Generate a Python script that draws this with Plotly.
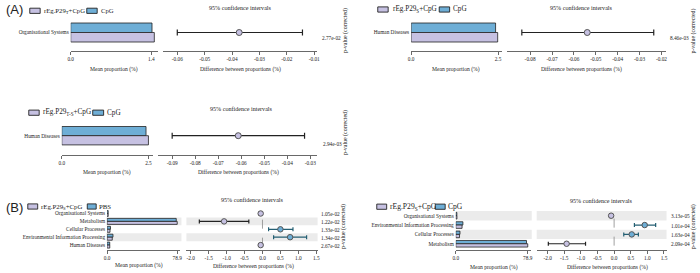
import plotly.graph_objects as go

W, H = 700, 273

# ------------------------- DATA -------------------------
# Panel A1
A1_categories = ["Organisational Systems"]
A1_group1 = [1.45]          # rEg.P29T+CpG
A1_group2 = [1.41]          # CpG
A1_diff = [-0.0374]
A1_ci_low = [-0.0600]
A1_ci_high = [-0.0143]
A1_pvalues = ["2.77e-02"]
A1_bar_ticks = [0.0, 1.4]
A1_ci_ticks = [-0.06, -0.05, -0.04, -0.03, -0.02, -0.01]
A1_legend = ["rEg.P29<sub>T</sub>+CpG", "CpG"]

# Panel A2
A2_categories = ["Human Diseases"]
A2_group1 = [2.49]          # rEg.P29S+CpG
A2_group2 = [2.43]          # CpG
A2_diff = [-0.0539]
A2_ci_low = [-0.0838]
A2_ci_high = [-0.0235]
A2_pvalues = ["8.46e-03"]
A2_bar_ticks = [0.0, 2.5]
A2_ci_ticks = [-0.08, -0.07, -0.06, -0.05, -0.04, -0.03, -0.02]
A2_legend = ["rEg.P29<sub>S</sub>+CpG", "CpG"]

# Panel A3
A3_categories = ["Human Diseases"]
A3_group1 = [2.50]          # rEg.P29T-S+CpG
A3_group2 = [2.43]          # CpG
A3_diff = [-0.0613]
A3_ci_low = [-0.0900]
A3_ci_high = [-0.0325]
A3_pvalues = ["2.94e-03"]
A3_bar_ticks = [0.0, 2.5]
A3_ci_ticks = [-0.09, -0.08, -0.07, -0.06, -0.05, -0.04, -0.03]
A3_legend = ["rEg.P29<sub>T-S</sub>+CpG", "CpG"]

# Panel B1
B1_categories = ["Organisational Systems", "Metabolism", "Cellular Processes",
                 "Environmental Information Processing", "Human Diseases"]
B1_group1 = [1.25, 78.9, 3.3, 5.8, 3.0]     # rEg.P29S+CpG
B1_group2 = [1.20, 77.8, 3.8, 6.6, 2.95]    # PBS
B1_diff = [-0.05, -1.07, 0.50, 0.77, -0.05]
B1_ci_low = [-0.09, -1.76, 0.17, 0.31, -0.09]
B1_ci_high = [-0.01, -0.38, 0.85, 1.23, -0.01]
B1_pvalues = ["1.05e-02", "1.22e-02", "1.33e-02", "1.34e-02", "2.67e-02"]
B1_bar_ticks = [0.0, 78.9]
B1_ci_ticks = [-2.0, -1.5, -1.0, -0.5, 0.0, 0.5, 1.0, 1.5]
B1_legend = ["rEg.P29<sub>S</sub>+CpG", "PBS"]

# Panel B2
B2_categories = ["Organisational Systems", "Environmental Information Processing",
                 "Cellular Processes", "Metabolism"]
B2_group1 = [1.25, 6.9, 4.1, 78.9]          # rEg.P29S+CpG
B2_group2 = [1.16, 7.8, 4.6, 77.5]          # CpG
B2_diff = [-0.09, 0.92, 0.53, -1.43]
B2_ci_low = [-0.13, 0.61, 0.29, -1.98]
B2_ci_high = [-0.05, 1.25, 0.73, -0.86]
B2_pvalues = ["3.13e-05", "1.01e-04", "1.63e-04", "2.09e-04"]
B2_bar_ticks = [0.0, 78.9]
B2_ci_ticks = [-2.0, -1.5, -1.0, -0.5, 0.0, 0.5, 1.0, 1.5]
B2_legend = ["rEg.P29<sub>S</sub>+CpG", "CpG"]

# ------------------------- STYLE -------------------------
PURPLE = "#c6c1e2"
BLUE = "#6eaed6"
EDGE = "#222222"
BAND = "#ebebeb"
SERIF = "Liberation Serif"
TXT = "#222222"


def px(x):
    return x / W


def py(y):
    return 1 - y / H


fig = go.Figure()
layout = {}
shapes = []
annotations = []


def text(x, y, s, size, xanchor="center", yanchor="middle", angle=0, family=SERIF):
    annotations.append(dict(x=px(x), y=py(y), xref="paper", yref="paper", text=s,
                            showarrow=False, xanchor=xanchor, yanchor=yanchor,
                            textangle=angle, font=dict(family=family, size=size, color=TXT)))


def panel(kb, kc, cats, g1, g2, diff, lo, hi, pvals, bar_ticks, ci_ticks, ci_fmt, legend, geo):
    n = len(cats)
    ys = [-i for i in range(n)]
    pitch, h = geo["pitch"], geo["h"]
    top = geo["row0"] - pitch / 2
    bot = geo["row0"] + (n - 1) * pitch + pitch / 2
    w = h / pitch
    bar_font = dict(family=SERIF, size=geo["fs"], color=TXT)

    # bars
    fig.add_trace(go.Bar(x=g2, y=ys, orientation="h", width=w, offset=0,
                         marker=dict(color=BLUE, line=dict(color=EDGE, width=0.8)),
                         xaxis=f"x{kb}", yaxis=f"y{kb}", hoverinfo="skip"))
    fig.add_trace(go.Bar(x=g1, y=ys, orientation="h", width=w, offset=-w,
                         marker=dict(color=PURPLE, line=dict(color=EDGE, width=0.8)),
                         xaxis=f"x{kb}", yaxis=f"y{kb}", hoverinfo="skip"))

    # CI points
    for i in range(n):
        pos = diff[i] > 0
        fig.add_trace(go.Scatter(
            x=[diff[i]], y=[ys[i]], mode="markers",
            marker=dict(size=geo["ms"], color=BLUE if pos else PURPLE,
                        line=dict(color="#555555", width=1)),
            error_x=dict(type="data", symmetric=False, array=[hi[i] - diff[i]],
                         arrayminus=[diff[i] - lo[i]], color="#245f73" if pos else "#222222",
                         thickness=1.2, width=geo["cap"]),
            xaxis=f"x{kc}", yaxis=f"y{kc}", hoverinfo="skip", cliponaxis=False))

    ydom = [py(bot), py(top)]
    yr = [-(n - 1) - 0.5, 0.5]
    layout[f"yaxis{kb}"] = dict(domain=ydom, range=yr, anchor=f"x{kb}", tickvals=ys, ticktext=cats,
                                showline=False, ticks="", showgrid=False, zeroline=False,
                                tickfont=bar_font, ticklabelstandoff=1)
    layout[f"yaxis{kc}"] = dict(domain=ydom, range=yr, anchor=f"x{kc}", showticklabels=False,
                                showline=False, ticks="", showgrid=False, zeroline=False)
    axis_common = dict(anchor="free", position=py(geo["axis_y"]), showline=True, linecolor="#444444",
                       linewidth=0.8, ticks="outside", ticklen=3, tickwidth=0.8, tickcolor="#444444",
                       showgrid=False, zeroline=False, tickfont=bar_font)
    layout[f"xaxis{kb}"] = dict(domain=[px(geo["bx"][0]), px(geo["bx"][1])], range=geo["brange"],
                                tickvals=bar_ticks, ticktext=[f"{v:.1f}" for v in bar_ticks], **axis_common)
    layout[f"xaxis{kc}"] = dict(domain=[px(geo["cx"][0]), px(geo["cx"][1])], range=geo["crange"],
                                tickvals=ci_ticks, ticktext=[format(v, ci_fmt) for v in ci_ticks], **axis_common)

    # alternating bands
    for i in range(n):
        if (n - 1 - i) % 2 == 1:
            for k, x0, x1 in ((kb, geo["band_b"][0], geo["band_b"][1]), (kc, geo["cx"][0], geo["cx"][1])):
                shapes.append(dict(type="rect", xref="paper", yref=f"y{k}",
                                   x0=px(x0), x1=px(x1), y0=ys[i] - 0.5, y1=ys[i] + 0.5,
                                   fillcolor=BAND, line=dict(width=0), layer="below"))
    # zero line
    if geo["crange"][0] < 0 < geo["crange"][1]:
        shapes.append(dict(type="line", xref=f"x{kc}", yref=f"y{kc}", x0=0, x1=0,
                           y0=yr[0] + 0.3, y1=yr[1] - 0.3,
                           line=dict(color="#888888", width=0.8, dash="dash"), layer="below"))

    # p-values
    for i in range(n):
        text(geo["px"], geo["row0"] + i * pitch + geo["poff"], pvals[i], geo["fs"], xanchor="left")
    text(geo["plab"][0], geo["plab"][1], "p-value (corrected)", geo["fs"] + 0.6, angle=-90)

    # titles
    text(geo["title"][0], geo["title"][1], "95% confidence intervals", geo["fs"] + 0.8)
    text(geo["mean_t"][0], geo["mean_t"][1], "Mean proportion (%)", geo["fs"] + 0.3)
    text(geo["diff_t"][0], geo["diff_t"][1], "Difference between proportions (%)", geo["fs"] + 0.3)

    # legend
    lg = geo["leg"]
    ly = lg["y"]
    for (x0, x1), col, lab, tx in ((lg["s1"], PURPLE, legend[0], lg["t1"]),
                                   (lg["s2"], BLUE, legend[1], lg["t2"])):
        shapes.append(dict(type="rect", xref="paper", yref="paper", x0=px(x0), x1=px(x1),
                           y0=py(ly + 2.6), y1=py(ly - 2.6), fillcolor=col,
                           line=dict(color=EDGE, width=0.9)))
        text(tx, ly, lab, lg["fs"], xanchor="left")


geoA1 = dict(row0=32.5, pitch=24, h=9.5, fs=5.3, ms=6, cap=3, axis_y=50.7,
             bx=(68.3, 156.7), brange=[0, 1.52], cx=(161.7, 316.7), crange=[-0.0651, -0.0090],
             band_b=(68, 157), px=319.3, poff=6, plab=(345, 31),
             title=(240, 7.5), mean_t=(112, 69.5), diff_t=(240, 69.5),
             leg=dict(y=10.8, s1=(27, 37.5), t1=39.5, s2=(84.5, 95), t2=96.5, fs=6.7))
geoA2 = dict(row0=32.5, pitch=24, h=9.5, fs=5.3, ms=6, cap=3, axis_y=50.7,
             bx=(411.7, 503.3), brange=[0, 2.614], cx=(508.3, 668.3), crange=[-0.0906, -0.0181],
             band_b=(411, 503), px=671, poff=6, plab=(695.5, 31),
             title=(583, 7.5), mean_t=(456.5, 69.5), diff_t=(583, 69.5),
             leg=dict(y=9.5, s1=(378, 388.5), t1=391, s2=(440, 450.5), t2=451.5, fs=7.2))
geoA3 = dict(row0=135.7, pitch=24, h=9.2, fs=5.3, ms=6, cap=3, axis_y=155,
             bx=(59.3, 151.7), brange=[0, 2.643], cx=(156.7, 316.7), crange=[-0.0960, -0.0271],
             band_b=(59, 152), px=321, poff=8, plab=(345, 133),
             title=(241, 109), mean_t=(105, 172.7), diff_t=(237.5, 172.7),
             leg=dict(y=112.7, s1=(26, 36.5), t1=38.5, s2=(90.5, 101.5), t2=103, fs=7.2))
geoB1 = dict(row0=213.5, pitch=7.9, h=3.0, fs=5.3, ms=5.5, cap=2, axis_y=250,
             bx=(105, 178.5), brange=[0, 82], cx=(185, 317.3), crange=[-2.12, 1.536],
             band_b=(104, 180), px=319, poff=0.5, plab=(343, 227),
             title=(251.7, 200), mean_t=(137.5, 265.7), diff_t=(252.5, 266.7),
             leg=dict(y=206.5, s1=(25, 35), t1=36.5, s2=(85, 94), t2=94.5, fs=6.8))
geoB2 = dict(row0=215.7, pitch=9.35, h=3.3, fs=5.3, ms=5.5, cap=2, axis_y=250,
             bx=(456.7, 532.7), brange=[0, 82.6], cx=(538.3, 669.3), crange=[-2.33, 1.578],
             band_b=(456.7, 533.3), px=671.7, poff=0.5, plab=(696.5, 226.7),
             title=(603.3, 201), mean_t=(495, 267.7), diff_t=(610, 267.7),
             leg=dict(y=206.7, s1=(377, 387), t1=388.5, s2=(436, 446), t2=447, fs=7.6))

panel(1, 2, A1_categories, A1_group1, A1_group2, A1_diff, A1_ci_low, A1_ci_high, A1_pvalues,
      A1_bar_ticks, A1_ci_ticks, ".2f", A1_legend, geoA1)
panel(3, 4, A2_categories, A2_group1, A2_group2, A2_diff, A2_ci_low, A2_ci_high, A2_pvalues,
      A2_bar_ticks, A2_ci_ticks, ".2f", A2_legend, geoA2)
panel(5, 6, A3_categories, A3_group1, A3_group2, A3_diff, A3_ci_low, A3_ci_high, A3_pvalues,
      A3_bar_ticks, A3_ci_ticks, ".2f", A3_legend, geoA3)
panel(7, 8, B1_categories, B1_group1, B1_group2, B1_diff, B1_ci_low, B1_ci_high, B1_pvalues,
      B1_bar_ticks, B1_ci_ticks, ".1f", B1_legend, geoB1)
panel(9, 10, B2_categories, B2_group1, B2_group2, B2_diff, B2_ci_low, B2_ci_high, B2_pvalues,
      B2_bar_ticks, B2_ci_ticks, ".1f", B2_legend, geoB2)

text(1, 9.5, "(A)", 13, xanchor="left", family="Liberation Sans")
text(1, 207.5, "(B)", 13, xanchor="left", family="Liberation Sans")

fig.update_layout(**layout)
fig.update_layout(width=W, height=H, margin=dict(l=0, r=0, t=0, b=0),
                  paper_bgcolor="white", plot_bgcolor="rgba(0,0,0,0)",
                  showlegend=False, barmode="overlay",
                  shapes=shapes, annotations=annotations)

fig.write_html("out.html", config={"displayModeBar": False, "staticPlot": True},
               post_script="document.body.style.margin='0';document.body.style.overflow='hidden';")
